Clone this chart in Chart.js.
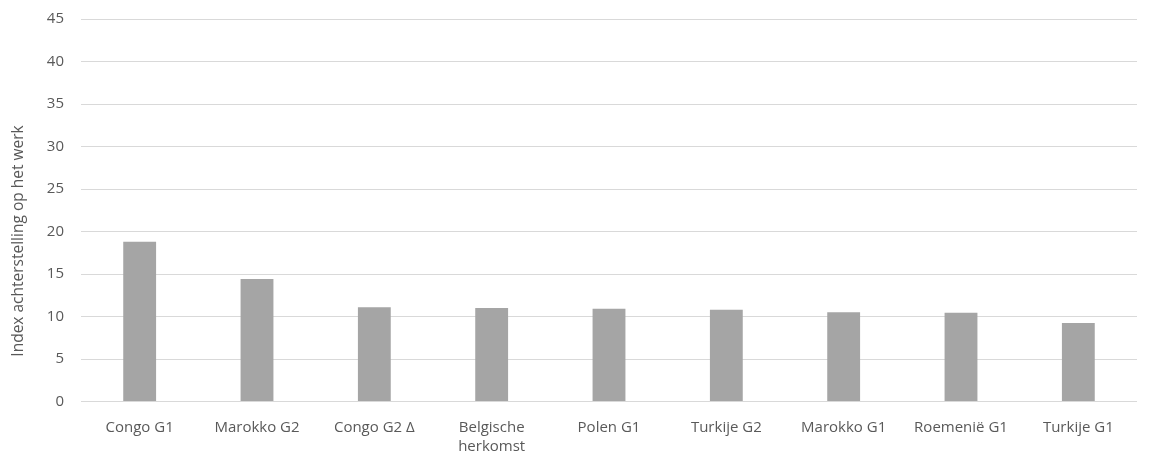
<!DOCTYPE html>
<html><head><meta charset="utf-8">
<script src="https://cdn.jsdelivr.net/npm/chart.js@4"></script>
<style>html,body{margin:0;padding:0;background:#fff;}canvas{display:block;}</style>
</head><body>
<canvas id="c" width="1156" height="457"></canvas>
<script>
const categories = ["Congo G1", "Marokko G2", "Congo G2 Δ", ["Belgische", "herkomst"], "Polen G1", "Turkije G2", "Marokko G1", "Roemenië G1", "Turkije G1"];
const values = [18.8, 14.4, 11.1, 11.0, 10.9, 10.8, 10.5, 10.45, 9.25];
const yTicks = [0, 5, 10, 15, 20, 25, 30, 35, 40, 45];
const yTitle = "Index achterstelling op het werk";

const font = {family: "'Open Sans', 'Liberation Sans', sans-serif", size: 15, lineHeight: 1.3};

const titlePlugin = {
  id: 'yTitle',
  afterDraw(chart) {
    const ctx = chart.ctx;
    ctx.save();
    ctx.translate(19, 241);
    ctx.rotate(-Math.PI / 2);
    ctx.font = "15.5px 'Open Sans', 'Liberation Sans', sans-serif";
    ctx.fillStyle = '#595959';
    ctx.textAlign = 'center';
    ctx.textBaseline = 'middle';
    ctx.fillText(yTitle, 0, 0);
    ctx.restore();
  }
};

new Chart(document.getElementById('c'), {
  type: 'bar',
  data: {labels: categories, datasets: [{data: values, backgroundColor: '#a5a5a5', borderWidth: 0, barPercentage: 0.56, categoryPercentage: 0.5}]},
  options: {
    responsive: false, animation: false,
    layout: {autoPadding: false, padding: {top: 19, right: 19, left: 0, bottom: 0}},
    plugins: {legend: {display: false}, tooltip: {enabled: false}},
    scales: {
      x: {
        grid: {display: false, drawTicks: false},
        border: {display: false},
        ticks: {color: '#595959', font: font, padding: 16, maxRotation: 0, autoSkip: false},
        afterFit: s => { s.height = 55.5; s.paddingLeft = 0; s.paddingRight = 0; }
      },
      y: {
        min: 0, max: 45,
        afterBuildTicks: s => { s.ticks = yTicks.map(v => ({value: v})); },
        grid: {color: '#d9d9d9', lineWidth: 1, drawTicks: false},
        border: {display: false},
        ticks: {color: '#595959', font: font, padding: 17},
        afterFit: s => { s.width = 81; s.paddingTop = 0; s.paddingBottom = 0; }
      }
    }
  },
  plugins: [titlePlugin]
});
</script>
</body></html>
